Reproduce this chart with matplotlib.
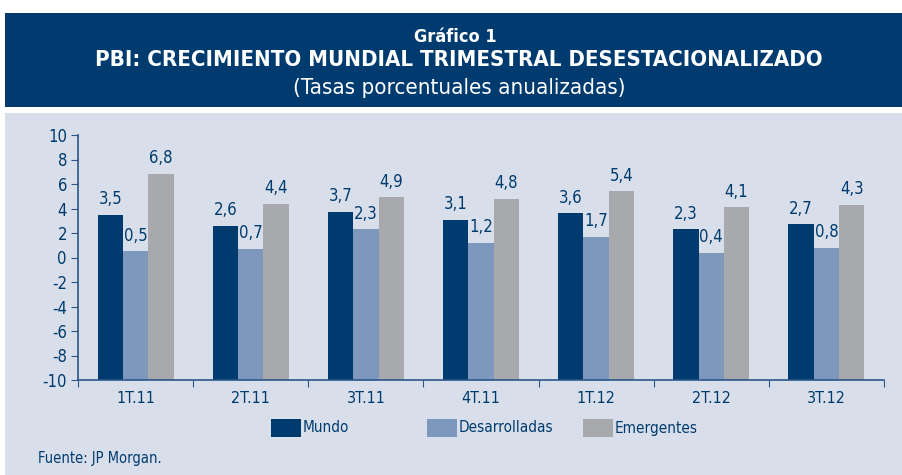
import numpy as np
import matplotlib.pyplot as plt
from matplotlib.patches import Rectangle

plt.rcParams['font.family'] = ['DejaVu Sans']
plt.rcParams['font.stretch'] = 'condensed'
plt.rcParams['axes.unicode_minus'] = False

# Data
trimestres = ['1T.11', '2T.11', '3T.11', '4T.11', '1T.12', '2T.12', '3T.12']
mundo = [3.5, 2.6, 3.7, 3.1, 3.6, 2.3, 2.7]
desarrolladas = [0.5, 0.7, 2.3, 1.2, 1.7, 0.4, 0.8]
emergentes = [6.8, 4.4, 4.9, 4.8, 5.4, 4.1, 4.3]
series = ['Mundo', 'Desarrolladas', 'Emergentes']

navy = '#003b6f'
c_mundo = '#003b6f'
c_des = '#7e97bc'
c_emer = '#a8a9ad'
bg = '#d9dfea'
axis_col = '#2b5689'

fig = plt.figure(figsize=(9.03, 4.75), dpi=100)
fig.patch.set_facecolor('white')

# background panel and header box
fig.patches.append(Rectangle((5 / 903, 0), 898 / 903, 362 / 475,
                             transform=fig.transFigure, facecolor=bg,
                             edgecolor='none', zorder=-2))
fig.patches.append(Rectangle((5 / 903, 1 - 107 / 475), 898 / 903, 94 / 475,
                             transform=fig.transFigure, facecolor=navy,
                             edgecolor='none', zorder=-2))

cx = 459 / 903
fig.text(cx - 4 / 903, 1 - 37 / 475, 'Gráfico 1', color='white', fontsize=13,
         fontweight='bold', ha='center', va='center')
fig.text(cx, 1 - 60 / 475, 'PBI: CRECIMIENTO MUNDIAL TRIMESTRAL DESESTACIONALIZADO',
         color='white', fontsize=15.9, fontweight='bold', ha='center', va='center')
fig.text(cx, 1 - 88 / 475, '(Tasas porcentuales anualizadas)', color='white',
         fontsize=16, ha='center', va='center')

ax = fig.add_axes([78 / 903, 1 - 380 / 475, 806 / 903, 245 / 475])
ax.set_facecolor('none')

x = np.arange(len(trimestres))
w = 0.22
for vals, off, col in [(mundo, -w, c_mundo), (desarrolladas, 0, c_des),
                       (emergentes, w, c_emer)]:
    ax.bar(x + off, np.array(vals) + 10, bottom=-10, width=w,
           color=col, edgecolor='none')
    for xi, v in zip(x + off, vals):
        ax.text(xi, v + 0.55, f'{v:.1f}'.replace('.', ','), ha='center',
                va='bottom', fontsize=12, color=navy)

ax.set_xlim(-0.5, len(trimestres) - 0.5)
ax.set_ylim(-10, 10)
ax.set_yticks(range(-10, 11, 2))
ax.set_xticks(np.arange(-0.5, len(trimestres), 1))
ax.set_xticklabels([])
ax.set_xticks(x, minor=True)
ax.set_xticklabels(trimestres, minor=True)
ax.tick_params(axis='x', which='minor', length=0, pad=8, labelsize=11.5,
               labelcolor=navy)
ax.tick_params(axis='x', which='major', length=5, color=axis_col)
ax.tick_params(axis='y', length=5, color=axis_col, labelsize=12,
               labelcolor=navy, pad=3)
for s in ['top', 'right']:
    ax.spines[s].set_visible(False)
for s in ['left', 'bottom']:
    ax.spines[s].set_color(axis_col)
    ax.spines[s].set_linewidth(1.2)

# legend
leg_y = 1 - 428 / 475
for name, col, x0 in zip(series, [c_mundo, c_des, c_emer], [271, 427, 583]):
    fig.patches.append(Rectangle((x0 / 903, leg_y - 9 / 475), 30 / 903, 18 / 475,
                                 transform=fig.transFigure, facecolor=col,
                                 edgecolor='none'))
    fig.text((x0 + 32) / 903, leg_y, name, fontsize=11, color=navy,
             ha='left', va='center')

fig.text(38 / 903, 1 - 458 / 475, 'Fuente: JP Morgan.', fontsize=10.5,
         color=navy, ha='left', va='center')

fig.savefig('out.png', dpi=100)
